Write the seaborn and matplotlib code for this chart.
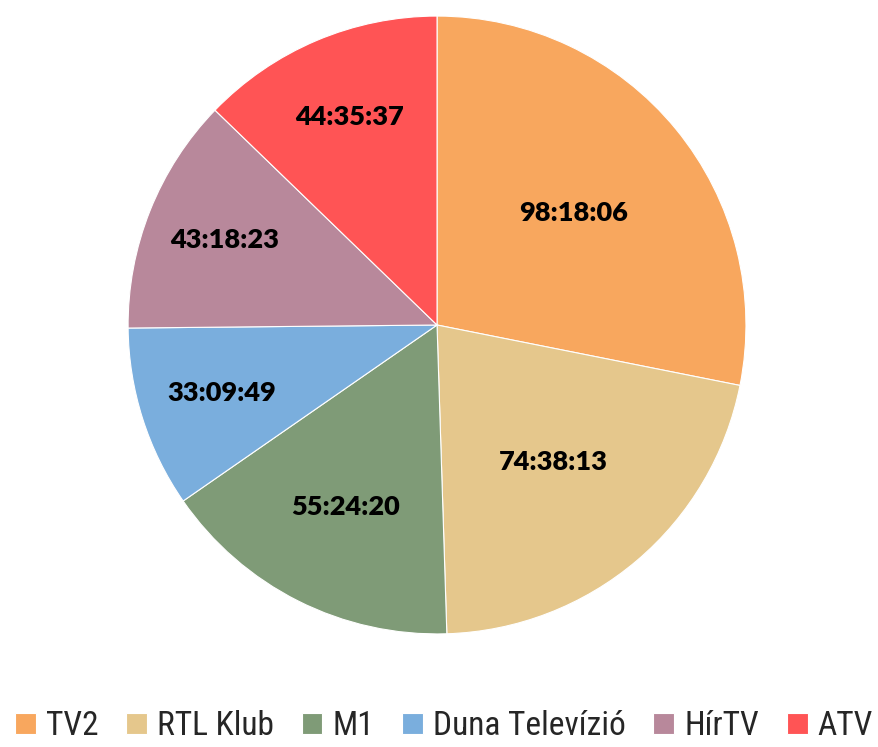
import numpy as np
import seaborn as sns
import matplotlib.pyplot as plt
from matplotlib import font_manager

sns.set_theme(style="white")
plt.rcParams['font.family'] = ['Lato', 'DejaVu Sans']

# data
channels = ["TV2", "RTL Klub", "M1", "Duna Televízió", "HírTV", "ATV"]
durations = ["98:18:06", "74:38:13", "55:24:20", "33:09:49", "43:18:23", "44:35:37"]
colors = ["#F8A75E", "#E5C78C", "#7F9B77", "#7AAEDD", "#B8889B", "#FF5455"]

def to_seconds(s):
    h, m, sec = (int(x) for x in s.split(":"))
    return h * 3600 + m * 60 + sec

secs = np.array([to_seconds(d) for d in durations])

names = {f.name for f in font_manager.fontManager.ttflist}
legend_font, legend_size = 'Lato', 21
for cand in ['Roboto Condensed', 'Open Sans Condensed', 'Liberation Sans Narrow']:
    if cand in names:
        legend_font, legend_size = cand, 24
        break

fig = plt.figure(figsize=(8.79, 7.47), dpi=100)
ax = fig.add_axes([0.0, 0.0, 1.0, 1.0])
ax.axis('off')

wedges, _ = ax.pie(secs, colors=colors, startangle=90, counterclock=False,
                   radius=1.0, wedgeprops=dict(linewidth=0.8, edgecolor='white'))
ax.set_xlim(-1.414, 1.430)
ax.set_ylim(-1.366, 1.052)

# label distance per slice (best-fit style)
label_r = [0.57, 0.58, 0.66, 0.73, 0.74, 0.73]
for w, txt, r in zip(wedges, durations, label_r):
    ang = np.deg2rad((w.theta1 + w.theta2) / 2)
    ax.text(r * np.cos(ang), r * np.sin(ang), txt, ha='center', va='center',
            fontsize=19.5, fontweight='heavy', color='black')

fig.legend(wedges, channels, loc='lower center', ncol=6, frameon=False,
           bbox_to_anchor=(0.505, -0.034), prop={'family': legend_font, 'size': legend_size},
           handlelength=0.62, handleheight=0.62, handletextpad=0.3,
           columnspacing=0.84)

fig.savefig("out.png", dpi=100)
